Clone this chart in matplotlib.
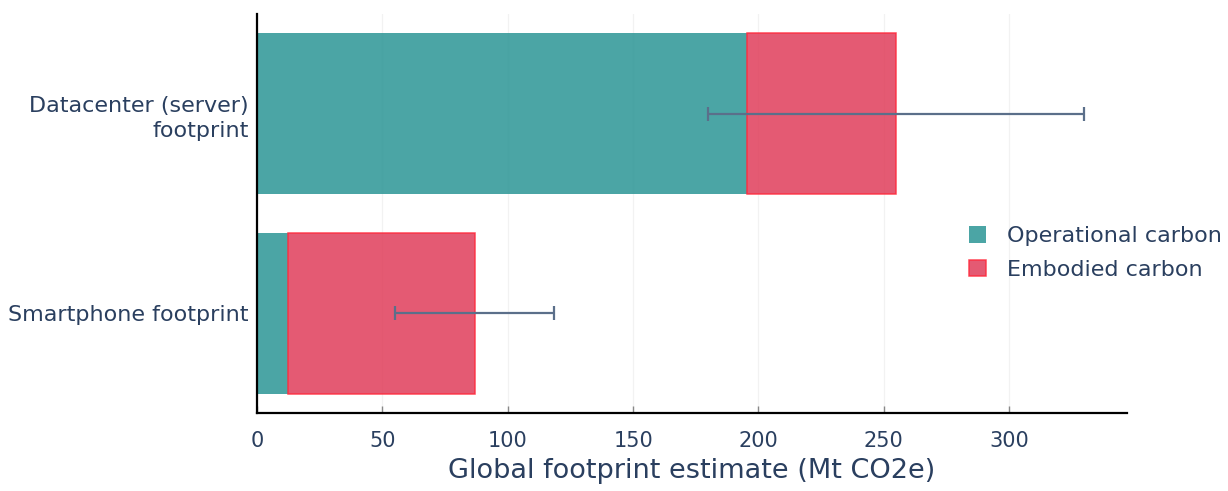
import numpy as np
from matplotlib import pyplot as plt

# data (Mt CO2e)
categories = ['Smartphone footprint', 'Datacenter (server)\nfootprint']
operational = [12.4, 195.5]
embodied = [74.6, 59.5]
err_low = [32, 75]
err_high = [31.5, 75]
series_names = ['Operational carbon', 'Embodied carbon']

text_color = '#2a3f5f'
teal = '#2b9595'
red = '#e03d5a'

plt.rcParams['font.family'] = 'DejaVu Sans'

fig = plt.figure(figsize=(12.28, 4.91), dpi=100)
ax = fig.add_axes([257/1228, 78/491, 870/1228, 399/491])

y = np.arange(len(categories))
totals = np.array(operational) + np.array(embodied)

ax.barh(y, operational, height=0.805, color=teal, alpha=0.85, linewidth=0,
        label=series_names[0], zorder=2)
ax.barh(y, embodied, left=operational, height=0.805, color=red, alpha=0.85,
        edgecolor='#ff2a3c', linewidth=1.1, label=series_names[1], zorder=2)
ax.errorbar(totals, y, xerr=[err_low, err_high], fmt='none', ecolor='#5b6f8a',
            elinewidth=1.6, capsize=5, capthick=1.6, zorder=3)

ax.set_xlim(0, 347)
ax.set_ylim(-0.5, 1.5)
ax.set_xticks([0, 50, 100, 150, 200, 250, 300])
ax.set_yticks(y)
ax.set_yticklabels(categories, fontsize=16, color=text_color, linespacing=1.35)
ax.grid(axis='x', color='#f2f2f2', linewidth=0.9, zorder=0)
ax.set_axisbelow(True)

for s in ['top', 'right']:
    ax.spines[s].set_visible(False)
for s in ['left', 'bottom']:
    ax.spines[s].set_linewidth(1.6)
    ax.spines[s].set_color('black')

ax.tick_params(axis='x', direction='in', length=5, width=1, color='#888888',
               labelsize=15, labelcolor=text_color, pad=13)
ax.tick_params(axis='y', length=0, pad=6)
ax.set_xlabel('Global footprint estimate (Mt CO2e)', fontsize=19.5,
              color=text_color, labelpad=5)

fig.legend(loc='center left', bbox_to_anchor=(949/1228, 1 - 253/491),
           frameon=False, fontsize=16, labelcolor=text_color,
           handlelength=0.75, handleheight=0.75, handletextpad=0.95,
           labelspacing=0.6)

plt.savefig('out.png', dpi=100)
